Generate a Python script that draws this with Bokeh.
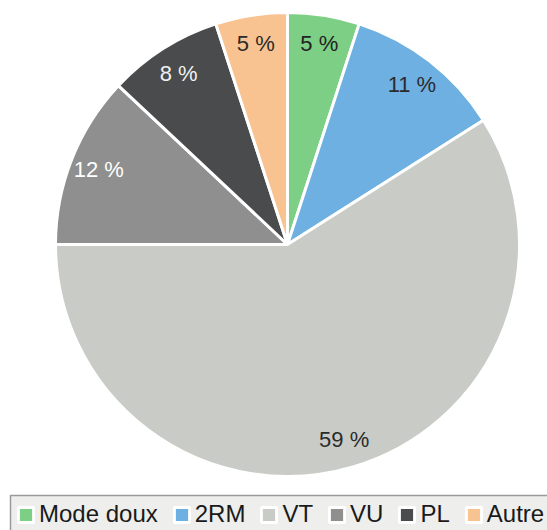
import math
from bokeh.plotting import figure
from bokeh.models import ColumnDataSource, Range1d, Legend, LegendItem
from bokeh.core.properties import value
from bokeh.embed import file_html
from bokeh.resources import INLINE

categories = ["Mode doux", "2RM", "VT", "VU", "PL", "Autre"]
shares = [5, 11, 59, 12, 8, 5]
labels = ["5 %", "11 %", "59 %", "12 %", "8 %", "5 %"]
colors = ["#7ccf85", "#6eb0e2", "#c9cbc6", "#8e8f8e", "#4a4b4d", "#f9c391"]
label_colors = ["#222222", "#2b2b2b", "#2b2b2b", "#ffffff", "#f0f0f0", "#2b2b2b"]

W, H = 547, 530
cx, cy, R = 287, 286, 232
total = sum(shares)
starts, ends, lx, ly = [], [], [], []
cum = 0.0
for s in shares:
    a0 = cum / total
    cum += s
    a1 = cum / total
    starts.append(math.pi / 2 - 2 * math.pi * a0)
    ends.append(math.pi / 2 - 2 * math.pi * a1)
    mid = math.pi / 2 - 2 * math.pi * (a0 + a1) / 2
    lx.append(cx + 0.875 * R * math.cos(mid))
    ly.append(cy + 0.875 * R * math.sin(mid))

src = ColumnDataSource(dict(cat=categories, start=starts, end=ends, color=colors,
                            lx=lx, ly=ly, lab=labels, lcol=label_colors,
                            x=[cx] * len(shares), y=[cy] * len(shares)))

p = figure(width=W, height=H, output_backend="svg", toolbar_location=None,
           x_range=Range1d(0, W), y_range=Range1d(0, H), min_border=0)
p.axis.visible = False
p.grid.visible = False
p.outline_line_color = None

wr = p.wedge(x="x", y="y", radius=R, start_angle="start", end_angle="end",
             direction="clock", fill_color="color", line_color="white",
             line_width=3, source=src)

p.text(x="lx", y="ly", text="lab", text_color="lcol", text_align="center",
       text_baseline="middle", text_font=value("Liberation Sans"),
       text_font_size="22px", source=src)

# legend frame box (cut off by the chart edge like in the original)
p.quad(left=[10], right=[W + 20], bottom=[-20], top=[H - 495],
       fill_color="#eeeeec", line_color="#9a9a9a", line_width=1.5)

items = [LegendItem(label=c, renderers=[wr], index=i) for i, c in enumerate(categories)]
legend = Legend(items=items, orientation="horizontal", location=(16, 2), margin=0,
                padding=0, spacing=14, label_standoff=4, glyph_width=19, glyph_height=19,
                label_height=28,
                label_text_font="Liberation Sans", label_text_font_size="24px",
                label_text_color="#1a1a1a", border_line_color=None,
                background_fill_alpha=0.0)
p.add_layout(legend, "center")

open("out.html", "w").write(file_html(p, INLINE))
